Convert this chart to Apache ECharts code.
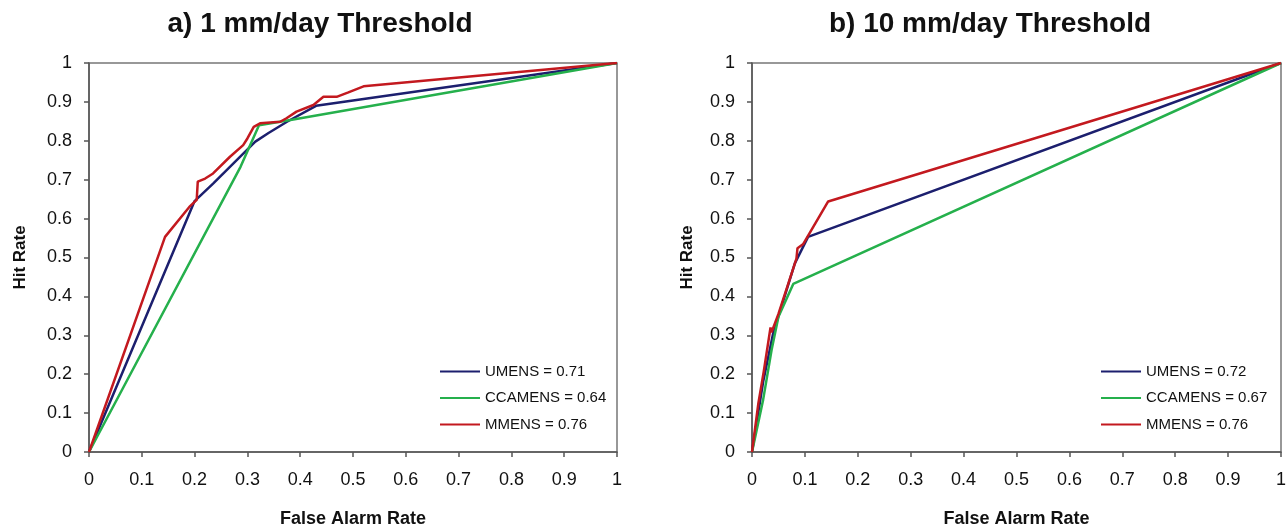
<!DOCTYPE html>
<html>
<head>
<meta charset="utf-8">
<script src="https://cdn.jsdelivr.net/npm/echarts@6/dist/echarts.min.js"></script>
<style>
  html, body { margin: 0; padding: 0; background: #fff; }
  #main { width: 1287px; height: 529px; }
</style>
</head>
<body>
<div id="main"></div>
<script>
// ROC curves: [false alarm rate, hit rate]
// a) 1 mm/day threshold
const umensA = [[0,0],[0.2,0.645],[0.235,0.69],[0.315,0.798],[0.34,0.82],[0.375,0.849],[0.43,0.89],[1,1]];
const ccamensA = [[0,0],[0.287,0.733],[0.322,0.84],[0.387,0.855],[1,1]];
const mmensA = [[0,0],[0.144,0.553],[0.19,0.63],[0.204,0.648],[0.206,0.695],[0.22,0.703],[0.235,0.716],
  [0.267,0.759],[0.292,0.789],[0.3,0.806],[0.312,0.836],[0.324,0.845],[0.362,0.849],[0.374,0.858],
  [0.393,0.875],[0.425,0.892],[0.444,0.913],[0.469,0.913],[0.49,0.924],[0.52,0.94],[1,1]];
// b) 10 mm/day threshold
const umensB = [[0,0],[0.021,0.18],[0.04,0.305],[0.081,0.485],[0.106,0.553],[1,1]];
const ccamensB = [[0,0],[0.021,0.134],[0.037,0.262],[0.05,0.348],[0.078,0.432],[1,1]];
const mmensB = [[0,0],[0.012,0.125],[0.022,0.205],[0.035,0.32],[0.037,0.308],[0.05,0.355],[0.084,0.497],
  [0.086,0.524],[0.097,0.535],[0.144,0.644],[1,1]];

const namesA = ['UMENS = 0.71', 'CCAMENS = 0.64', 'MMENS = 0.76'];
const namesB = ['UMENS = 0.72', 'CCAMENS = 0.67', 'MMENS = 0.76'];
const titles = ['a) 1 mm/day Threshold', 'b) 10 mm/day Threshold'];

const colors = ['#1c1f6e', '#25b04c', '#c3191f'];
const font = 'Liberation Sans, Arial, sans-serif';

var myChart = echarts.init(document.getElementById('main'));

function axisX(i) {
  return {
    type: 'value', gridIndex: i, min: 0, max: 1, interval: 0.1,
    name: 'False Alarm Rate', nameLocation: 'middle', nameGap: 58,
    nameTextStyle: { fontFamily: font, fontWeight: 'bold', fontSize: 18, color: '#111' },
    axisLine: { show: true, lineStyle: { color: '#555', width: 1.5 } },
    axisTick: { show: true, length: 5, lineStyle: { color: '#555', width: 1.5 } },
    axisLabel: { fontFamily: font, fontSize: 18, color: '#111', margin: 19 },
    splitLine: { show: false }
  };
}
function axisY(i, gap) {
  return {
    type: 'value', gridIndex: i, min: 0, max: 1, interval: 0.1,
    name: 'Hit Rate', nameLocation: 'middle', nameGap: gap,
    nameTextStyle: { fontFamily: font, fontWeight: 'bold', fontSize: 17, color: '#111' },
    axisLine: { show: true, lineStyle: { color: '#555', width: 1.5 } },
    axisTick: { show: true, length: 5, lineStyle: { color: '#555', width: 1.5 } },
    axisLabel: { fontFamily: font, fontSize: 18, color: '#111', margin: 17 },
    splitLine: { show: false }
  };
}
function line(name, data, color, i) {
  return {
    name: name, type: 'line', xAxisIndex: i, yAxisIndex: i, data: data,
    symbol: 'none', animation: false,
    lineStyle: { color: color, width: 2.5 }, itemStyle: { color: color }
  };
}
function legend(names, left) {
  return {
    data: names, orient: 'vertical', left: left, top: 359,
    icon: 'rect', itemWidth: 40, itemHeight: 2, itemGap: 11.5,
    textStyle: { fontFamily: font, fontSize: 15, color: '#111' },
    selectedMode: false
  };
}

var option = {
  backgroundColor: '#fff',
  title: [
    { text: titles[0], left: 315, top: 5, textAlign: 'center',
      textStyle: { fontFamily: font, fontWeight: 'bold', fontSize: 28, color: '#111' } },
    { text: titles[1], left: 985, top: 5, textAlign: 'center',
      textStyle: { fontFamily: font, fontWeight: 'bold', fontSize: 28, color: '#111' } }
  ],
  legend: [legend(namesA, 435), legend(namesB, 1096)],
  grid: [
    { left: 89, top: 63, width: 528, height: 389, show: true, borderColor: '#777', borderWidth: 1.5,
      outerBoundsMode: 'none' },
    { left: 752, top: 63, width: 529, height: 389, show: true, borderColor: '#777', borderWidth: 1.5,
      outerBoundsMode: 'none' }
  ],
  xAxis: [axisX(0), axisX(1)],
  yAxis: [axisY(0, 60), axisY(1, 56)],
  series: [
    line(namesA[0], umensA, colors[0], 0),
    line(namesA[1], ccamensA, colors[1], 0),
    line(namesA[2], mmensA, colors[2], 0),
    line(namesB[0], umensB, colors[0], 1),
    line(namesB[1], ccamensB, colors[1], 1),
    line(namesB[2], mmensB, colors[2], 1)
  ]
};

myChart.setOption(option);
</script>
</body>
</html>
